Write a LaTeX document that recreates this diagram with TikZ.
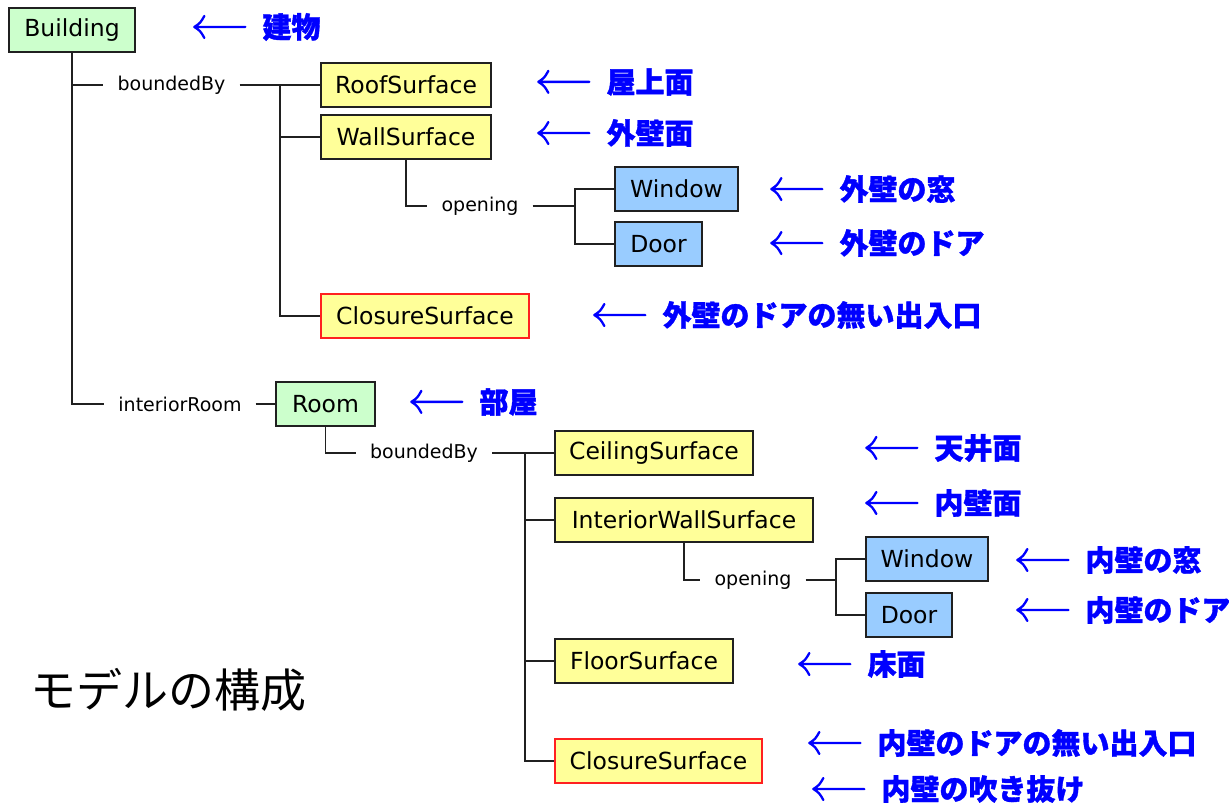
\documentclass[tikz,border=0pt]{standalone}
\usepackage{fontspec}
\setmainfont{DejaVu Sans}
\newfontfamily\cjk{Noto Sans CJK JP}
\definecolor{featgreen}{HTML}{CCFFCC}
\definecolor{surfyellow}{HTML}{FFFF99}
\definecolor{openblue}{HTML}{99CCFF}
\definecolor{closered}{HTML}{FF2020}
\definecolor{noteblue}{HTML}{0000FF}
\definecolor{edge}{HTML}{202020}
% long open-headed arrow in front of each annotation
\newcommand\notearrow{\tikz[x=1pt, y=1pt, baseline=-11pt]{%
  \draw[noteblue, line width=2.3pt, line cap=round, line join=round]
    (1,0) -- (52,0)
    (11,11) .. controls (7,4) .. (1,0) .. controls (7,-4) .. (11,-11);}%
  \hspace{16pt}}
\begin{document}
\begin{tikzpicture}[x=1pt,y=-1pt,
  box/.style={draw=edge, line width=1.3pt, inner sep=0pt, minimum height=44,
    font=\fontsize{23.5}{28}\selectfont},
  featbox/.style={box, fill=featgreen},
  surfbox/.style={box, fill=surfyellow},
  openbox/.style={box, fill=openblue},
  closebox/.style={box, fill=surfyellow, draw=closered},
  role/.style={inner xsep=14pt, inner ysep=0pt, font=\fontsize{19}{23}\selectfont},
  note/.style={anchor=west, inner sep=0pt, text=noteblue,
    font=\cjk\bfseries\fontsize{29}{34}\selectfont\addfontfeature{FakeBold=1.2}},
  link/.style={line width=1.4pt, edge}]
\useasboundingbox (0,0) rectangle (1229,803);

% ---- building and its boundary surfaces
\node[featbox, minimum width=126] (building) at (72,30) {Building};
\node[role] (bb1) at (171.5,85) {boundedBy};
\node[surfbox, minimum width=170] (roof) at (406,85) {RoofSurface};
\node[surfbox, minimum width=170] (wall) at (406,137) {WallSurface};
\node[role] (op1) at (480,206) {opening};
\node[openbox, minimum width=123] (win1) at (676.5,189) {Window};
\node[openbox, minimum width=87] (door1) at (658.5,244) {Door};
\node[closebox, minimum width=208] (clos1) at (425,316) {ClosureSurface};

% ---- room and its boundary surfaces
\node[role] (ir) at (180,404) {interiorRoom};
\node[featbox, minimum width=99] (room) at (325.5,404) {Room};
\node[role] (bb2) at (424,453) {boundedBy};
\node[surfbox, minimum width=198] (ceil) at (654,453) {CeilingSurface};
\node[surfbox, minimum width=258] (iwall) at (684,520) {InteriorWallSurface};
\node[role] (op2) at (753,580) {opening};
\node[openbox, minimum width=122] (win2) at (927,559) {Window};
\node[openbox, minimum width=86] (door2) at (909,615) {Door};
\node[surfbox, minimum width=178] (floor) at (644,661) {FloorSurface};
\node[closebox, minimum width=207] (clos2) at (658.5,761) {ClosureSurface};

% ---- junction points
\coordinate (j1) at (280,85);
\coordinate (j2) at (575,206);
\coordinate (j3) at (525,453);
\coordinate (j4) at (836,580);

% ---- tree connectors
\draw[link] (building.south) |- (bb1.west);
\draw[link] (building.south) |- (ir.west);
\draw[link] (bb1.east) -- (roof.west);
\draw[link] (j1) |- (wall.west);
\draw[link] (j1) |- (clos1.west);
\draw[link] (wall.south) |- (op1.west);
\draw[link] (op1.east) -- (j2);
\draw[link] (j2) |- (win1.west);
\draw[link] (j2) |- (door1.west);
\draw[link] (ir.east) -- (room.west);
\draw[link] (room.south) |- (bb2.west);
\draw[link] (bb2.east) -- (ceil.west);
\draw[link] (j3) |- (iwall.west);
\draw[link] (j3) |- (floor.west);
\draw[link] (j3) |- (clos2.west);
\draw[link] (iwall.south) |- (op2.west);
\draw[link] (op2.east) -- (j4);
\draw[link] (j4) |- (win2.west);
\draw[link] (j4) |- (door2.west);

% ---- annotations
\node[note] (n1)  at (193,27)  {\notearrow 建物};
\node[note] (n2)  at (537,82)  {\notearrow 屋上面};
\node[note] (n3)  at (537,133) {\notearrow 外壁面};
\node[note] (n4)  at (770,189) {\notearrow 外壁の窓};
\node[note] (n5)  at (770,243) {\notearrow 外壁のドア};
\node[note] (n6)  at (593,315) {\notearrow 外壁のドアの無い出入口};
\node[note] (n7)  at (410,402) {\notearrow 部屋};
\node[note] (n8)  at (865,448) {\notearrow 天井面};
\node[note] (n9)  at (865,503) {\notearrow 内壁面};
\node[note] (n10) at (1016,560) {\notearrow 内壁の窓};
\node[note] (n11) at (1016,610) {\notearrow 内壁のドア};
\node[note] (n12) at (798,664) {\notearrow 床面};
\node[note] (n13) at (808,743) {\notearrow 内壁のドアの無い出入口};
\node[note] (n14) at (812,789) {\notearrow 内壁の吹き抜け};

% ---- caption
\node[anchor=west, inner sep=0pt, font=\cjk\fontsize{46}{52}\selectfont] (title) at (30,690) {モデルの構成};
\end{tikzpicture}
\end{document}
